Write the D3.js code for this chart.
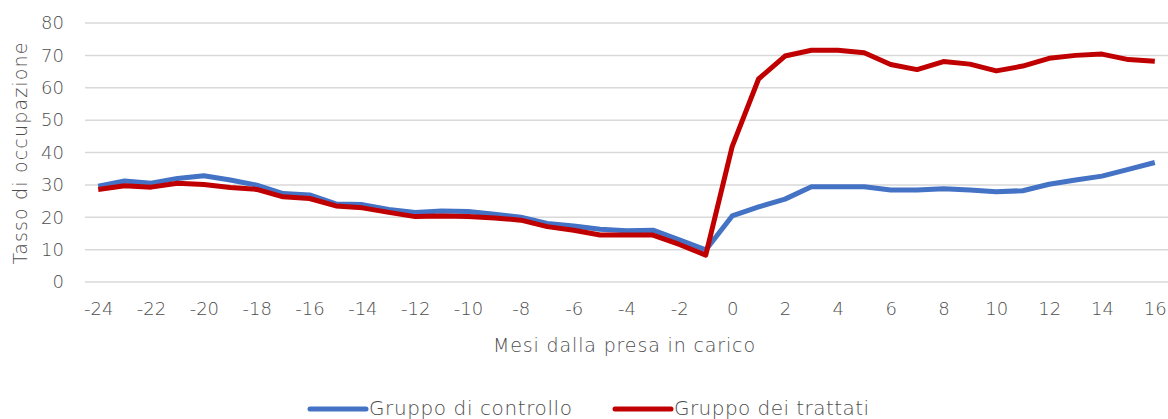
<!DOCTYPE html>
<html><head><meta charset="utf-8">
<script src="https://cdn.jsdelivr.net/npm/d3@7"></script>
<style>body{margin:0;background:#fff}svg{display:block}text{font-family:"DejaVu Sans",sans-serif;font-weight:200;fill:#4d4d4d}</style>
</head><body><svg id="c" width="1168" height="419"></svg>
<script>
const months = d3.range(-24, 17);
const controllo = [29.6,31.2,30.5,32.0,32.8,31.5,29.9,27.3,26.9,24.1,23.9,22.4,21.5,21.9,21.8,20.9,20.0,18.1,17.3,16.3,15.8,16.0,13.0,9.9,20.4,23.2,25.6,29.4,29.4,29.4,28.4,28.4,28.8,28.4,27.9,28.2,30.2,31.5,32.7,34.8,36.9];
const trattati = [28.6,29.7,29.3,30.5,30.1,29.2,28.6,26.3,25.8,23.5,22.9,21.5,20.2,20.4,20.2,19.8,19.1,17.1,16.0,14.5,14.5,14.5,11.6,8.3,41.8,62.7,69.8,71.6,71.6,70.8,67.2,65.6,68.1,67.3,65.2,66.7,69.1,70.0,70.4,68.7,68.2];
const yTicks = [0,10,20,30,40,50,60,70,80];
const seriesNames = ["Gruppo di controllo","Gruppo dei trattati"];
const colors = ["#4472c4","#c00000"];

const svg = d3.select("#c");
const L = 85, R = 1168, T = 23, B = 282;
const x = d3.scalePoint().domain(months).range([L, R]).padding(0.5);
const y = d3.scaleLinear().domain([0, 80]).range([B, T]);

// gridlines
svg.append("g").selectAll("line").data(yTicks).join("line")
  .attr("x1", L).attr("x2", R).attr("y1", d => y(d)).attr("y2", d => y(d))
  .attr("stroke", "#d9d9d9").attr("stroke-width", 1.5);

// y axis labels
const ya = svg.append("g").attr("transform", `translate(${L - 21},0)`)
  .call(d3.axisLeft(y).tickValues(yTicks).tickSize(0).tickPadding(0));
ya.select(".domain").remove();
ya.selectAll("text").style("font-size", "18px").attr("fill", "#4d4d4d");

// x axis labels
const xa = svg.append("g").attr("transform", `translate(0,302)`)
  .call(d3.axisBottom(x).tickValues(months.filter(m => m % 2 === 0)).tickSize(0).tickPadding(0));
xa.select(".domain").remove();
xa.selectAll("text").style("font-size", "18px").attr("fill", "#4d4d4d");

// axis titles
svg.append("text").attr("transform", `translate(27,${(T + B) / 2 + 1}) rotate(-90)`)
  .attr("text-anchor", "middle").style("font-size", "19px")
  .attr("textLength", 222).attr("lengthAdjust", "spacing").text("Tasso di occupazione");
svg.append("text").attr("x", 624).attr("y", 352)
  .attr("text-anchor", "middle").style("font-size", "19px")
  .attr("textLength", 262).attr("lengthAdjust", "spacing").text("Mesi dalla presa in carico");

// lines
const line = d3.line().x((d, i) => x(months[i])).y(d => y(d));
[controllo, trattati].forEach((s, k) => {
  svg.append("path").datum(s).attr("d", line).attr("fill", "none")
    .attr("stroke", colors[k]).attr("stroke-width", 5).attr("stroke-linejoin", "round");
});

// legend
const legX = [310, 615];
const legW = [203, 195];
seriesNames.forEach((n, k) => {
  const g = svg.append("g").attr("transform", `translate(${legX[k]},409)`);
  g.append("line").attr("x1", 0).attr("x2", 56).attr("stroke", colors[k]).attr("stroke-width", 5).attr("stroke-linecap", "round");
  g.append("text").attr("x", 59).attr("y", 6).style("font-size", "20px")
    .attr("textLength", legW[k]).attr("lengthAdjust", "spacing").text(n);
});
</script></body></html>
